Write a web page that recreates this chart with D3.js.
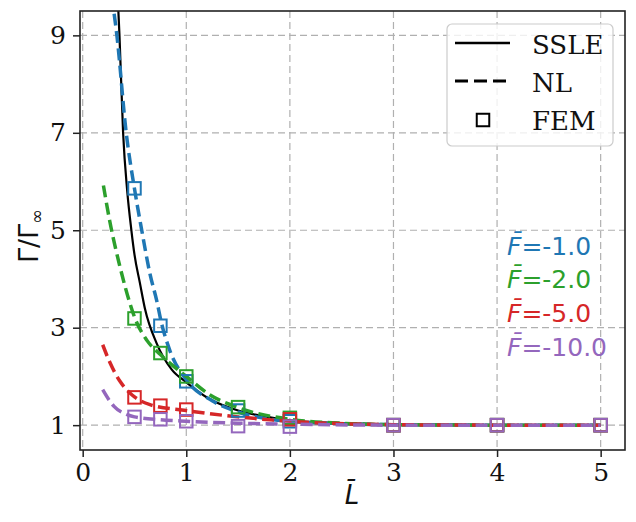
<!DOCTYPE html>
<html>
<head>
<meta charset="utf-8">
<script src="https://cdn.jsdelivr.net/npm/d3@7"></script>
<style>
  html, body { margin: 0; padding: 0; background: #fff; }
  svg { display: block; }
</style>
</head>
<body>
<svg id="chart" width="636" height="522"></svg>
<script>
// ---- data -------------------------------------------------------------
const xTicks = [0, 1, 2, 3, 4, 5];
const yTicks = [1, 3, 5, 7, 9];

// SSLE solution (single curve)
const ssleL = [0.34, 0.355, 0.39, 0.43, 0.47, 0.5, 0.553, 0.6, 0.714, 0.86, 1.0, 1.23, 1.5, 1.75, 2.0, 2.5, 3.0, 4.0, 5.0];
const ssleG = [9.7, 9.0, 7.0, 5.8, 5.0, 4.5, 3.91, 3.4, 2.68, 2.14, 1.88, 1.53, 1.3, 1.18, 1.1, 1.04, 1.02, 1.0, 1.0];

// NL solutions, one per load level
const forceLabels = ["-1.0", "-2.0", "-5.0", "-10.0"];
const forceColors = ["#1f77b4", "#2ca02c", "#d62728", "#9467bd"];

const nlL1 = [0.28, 0.33, 0.42, 0.5, 0.57, 0.65, 0.714, 0.76, 0.84, 1.0, 1.25, 1.5, 2.0, 2.5, 3.0, 4.0, 5.0];
const nlG1 = [9.8, 9.0, 7.0, 5.85, 5.0, 4.1, 3.56, 3.1, 2.54, 1.93, 1.5, 1.27, 1.08, 1.03, 1.01, 1.0, 1.0];
const nlL2 = [0.2, 0.26, 0.36, 0.456, 0.5, 0.62, 0.75, 1.0, 1.23, 1.5, 2.0, 2.5, 3.0, 4.0, 5.0];
const nlG2 = [5.92, 5.2, 4.25, 3.5, 3.22, 2.74, 2.45, 2.0, 1.62, 1.36, 1.12, 1.04, 1.01, 1.0, 1.0];
const nlL3 = [0.193, 0.264, 0.36, 0.456, 0.5, 0.65, 1.0, 1.5, 2.0, 3.0, 4.0, 5.0];
const nlG3 = [2.65, 2.28, 1.9, 1.66, 1.58, 1.42, 1.3, 1.17, 1.08, 1.01, 1.0, 1.0];
const nlL4 = [0.193, 0.3, 0.425, 0.5, 0.75, 1.0, 1.5, 2.0, 3.0, 4.0, 5.0];
const nlG4 = [1.73, 1.39, 1.22, 1.17, 1.11, 1.08, 1.04, 1.02, 1.0, 1.0, 1.0];

// FEM results
const femL1 = [0.5, 0.75, 1.0, 1.5, 2.0, 3.0, 4.0, 5.0];
const femG1 = [5.86, 3.04, 1.9, 1.3, 1.08, 1.0, 1.0, 1.0];
const femL2 = [0.5, 0.75, 1.0, 1.5, 2.0, 3.0, 4.0, 5.0];
const femG2 = [3.19, 2.48, 2.0, 1.37, 1.15, 1.0, 1.0, 1.0];
const femL3 = [0.5, 0.75, 1.0, 2.0, 3.0, 4.0, 5.0];
const femG3 = [1.57, 1.4, 1.32, 1.12, 1.0, 1.0, 1.0];
const femL4 = [0.5, 0.75, 1.0, 1.5, 2.0, 3.0, 4.0, 5.0];
const femG4 = [1.17, 1.12, 1.08, 0.98, 0.97, 1.0, 1.0, 1.0];

const legendLabels = ["SSLE", "NL", "FEM"];

// ---- layout -----------------------------------------------------------
const svg = d3.select("#chart");
const pLeft = 80, pRight = 625, pTop = 11, pBottom = 450;
const x = d3.scaleLinear().domain([-0.026, 5.235]).range([pLeft, pRight]);
const y = d3.scaleLinear().domain([0.49, 9.5]).range([pBottom, pTop]);

const serif = "'DejaVu Serif', serif";
const sans = "'DejaVu Sans', sans-serif";

svg.append("defs").append("clipPath").attr("id", "plotClip")
  .append("rect").attr("x", pLeft).attr("y", pTop)
  .attr("width", pRight - pLeft).attr("height", pBottom - pTop);

// grid
const grid = svg.append("g");
grid.selectAll("line.gx").data(xTicks).join("line").attr("class", "gx")
  .attr("x1", d => x(d)).attr("x2", d => x(d))
  .attr("y1", pTop).attr("y2", pBottom)
  .attr("stroke", "#b0b0b0").attr("stroke-width", 1.2).attr("stroke-dasharray", "7,4");
grid.selectAll("line.gy").data(yTicks).join("line").attr("class", "gy")
  .attr("y1", d => y(d)).attr("y2", d => y(d))
  .attr("x1", pLeft).attr("x2", pRight)
  .attr("stroke", "#b0b0b0").attr("stroke-width", 1.2).attr("stroke-dasharray", "7,4");

// curves
const plot = svg.append("g").attr("clip-path", "url(#plotClip)");
const line = d3.line().x(d => x(d[0])).y(d => y(d[1])).curve(d3.curveMonotoneX);
const zip = (a, b) => a.map((v, i) => [v, b[i]]);

plot.append("path").datum(zip(ssleL, ssleG))
  .attr("d", line).attr("fill", "none").attr("stroke", "#000").attr("stroke-width", 2.2);

const nlSets = [zip(nlL1, nlG1), zip(nlL2, nlG2), zip(nlL3, nlG3), zip(nlL4, nlG4)];
const femSets = [zip(femL1, femG1), zip(femL2, femG2), zip(femL3, femG3), zip(femL4, femG4)];

nlSets.forEach((pts, i) => {
  plot.append("path").datum(pts)
    .attr("d", line).attr("fill", "none")
    .attr("stroke", forceColors[i]).attr("stroke-width", 3.5)
    .attr("stroke-dasharray", "12,5.5");
});

const ms = 12.5;
femSets.forEach((pts, i) => {
  plot.append("g").selectAll("rect").data(pts).join("rect")
    .attr("x", d => x(d[0]) - ms / 2).attr("y", d => y(d[1]) - ms / 2)
    .attr("width", ms).attr("height", ms)
    .attr("fill", "none").attr("stroke", forceColors[i]).attr("stroke-width", 2);
});

// axes
const xAxis = svg.append("g").attr("transform", `translate(0,${pBottom})`)
  .call(d3.axisBottom(x).tickValues(xTicks).tickSize(7).tickPadding(6).tickFormat(d3.format("d")));
const yAxis = svg.append("g").attr("transform", `translate(${pLeft},0)`)
  .call(d3.axisLeft(y).tickValues(yTicks).tickSize(7).tickPadding(7).tickFormat(d3.format("d")));
[xAxis, yAxis].forEach(a => {
  a.select(".domain").remove();
  a.selectAll(".tick line").attr("stroke", "#222").attr("stroke-width", 1.5);
  a.selectAll(".tick text").attr("font-family", serif).attr("font-size", 25).attr("fill", "#111");
});

// frame
svg.append("rect").attr("x", pLeft).attr("y", pTop)
  .attr("width", pRight - pLeft).attr("height", pBottom - pTop)
  .attr("fill", "none").attr("stroke", "#222").attr("stroke-width", 1.6);

// axis titles
svg.append("text").attr("x", x(2.60)).attr("y", 504)
  .attr("text-anchor", "middle").attr("font-family", sans).attr("font-size", 26)
  .attr("font-style", "italic").attr("fill", "#111").text("L\u0304");

const yl = svg.append("text")
  .attr("transform", "translate(38,236) rotate(-90)")
  .attr("text-anchor", "middle").attr("font-family", sans).attr("font-size", 27).attr("fill", "#111");
yl.append("tspan").text("\u0393/\u0393");
yl.append("tspan").attr("font-size", 18).attr("dy", 5).text("\u221E");

// load-level labels
const fy = [255, 288, 322, 356];
forceLabels.forEach((lab, i) => {
  const t = svg.append("text").attr("x", 507).attr("y", fy[i])
    .attr("font-family", sans).attr("font-size", 25).attr("fill", forceColors[i]);
  t.append("tspan").attr("font-style", "italic").text("F\u0304");
  t.append("tspan").text("=" + lab);
});

// legend
const lg = svg.append("g");
lg.append("rect").attr("x", 447).attr("y", 24).attr("width", 166).attr("height", 122)
  .attr("rx", 5).attr("fill", "#fff").attr("fill-opacity", 0.8)
  .attr("stroke", "#ccc").attr("stroke-width", 1.2);
lg.append("line").attr("x1", 455).attr("x2", 510).attr("y1", 43).attr("y2", 43)
  .attr("stroke", "#000").attr("stroke-width", 2.5);
lg.append("line").attr("x1", 455).attr("x2", 510).attr("y1", 81).attr("y2", 81)
  .attr("stroke", "#000").attr("stroke-width", 3.2).attr("stroke-dasharray", "13,6");
lg.append("rect").attr("x", 483 - ms / 2).attr("y", 120 - ms / 2).attr("width", ms).attr("height", ms)
  .attr("fill", "none").attr("stroke", "#000").attr("stroke-width", 2);
const lgY = [54, 92, 130];
legendLabels.forEach((lab, i) => {
  lg.append("text").attr("x", 532).attr("y", lgY[i])
    .attr("font-family", serif).attr("font-size", 26).attr("fill", "#111").text(lab);
});
</script>
</body>
</html>
